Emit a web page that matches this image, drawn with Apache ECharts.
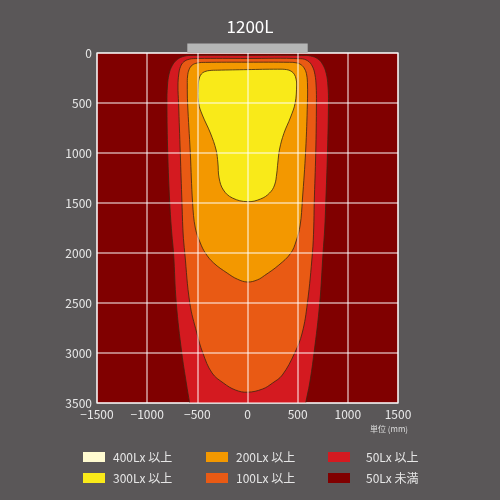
<!DOCTYPE html>
<html>
<head>
<meta charset="utf-8">
<script src="https://cdn.jsdelivr.net/npm/echarts@6/dist/echarts.min.js"></script>
<style>
  html, body { margin: 0; padding: 0; background: #5a5758; }
  #chart { width: 500px; height: 500px; }
</style>
</head>
<body>
<div id="chart"></div>
<script>
  // illuminance levels, in legend order
  const levels = ['400Lx 以上', '300Lx 以上', '200Lx 以上', '100Lx 以上', '50Lx 以上', '50Lx 未満']
  const colors = ['#fffbd0', '#f9ea19', '#f39800', '#e95a14', '#d41a20', '#800000']

  // contour outlines [x mm, distance mm]
  const lux400 = []
  const lux300 = [
    [-300, 172], [-375, 175], [-425, 186], [-460, 210], [-480, 250], [-490, 310], [-487, 500],
    [-450, 620], [-370, 800], [-313, 970], [-295, 1100], [-283, 1250], [-240, 1370], [-150, 1450],
    [0, 1487], [130, 1460], [220, 1400], [270, 1320], [292, 1200], [302, 1100], [320, 960],
    [363, 803], [430, 640], [475, 500], [490, 320], [484, 260], [466, 212], [435, 182],
    [390, 166], [300, 162], [0, 166],
  ]
  const lux200 = [
    [-420, 94], [-500, 100], [-552, 122], [-582, 165], [-597, 230], [-600, 320], [-597, 500],
    [-570, 1000], [-547, 1500], [-520, 1750], [-470, 1900], [-420, 2000], [-337, 2100],
    [-203, 2200], [-100, 2262], [0, 2290], [100, 2268], [170, 2225], [313, 2120], [430, 2003],
    [485, 1880], [525, 1720], [547, 1470], [580, 970], [597, 500], [598, 320], [590, 220],
    [570, 160], [535, 118], [485, 98], [420, 93], [0, 92],
  ]
  const lux100 = [
    [-500, 55], [-580, 62], [-635, 88], [-667, 135], [-685, 210], [-693, 330], [-687, 500],
    [-670, 1000], [-653, 1500], [-642, 1800], [-625, 2000], [-575, 2500], [-505, 2800],
    [-445, 3000], [-353, 3200], [-240, 3300], [-120, 3370], [0, 3392], [150, 3360], [250, 3300],
    [347, 3220], [470, 3000], [545, 2800], [597, 2500], [647, 2000], [660, 1750], [665, 1500],
    [680, 1000], [687, 500], [684, 330], [672, 215], [645, 130], [600, 78], [530, 57], [0, 55],
  ]
  const lux50 = [
    [-540, 24], [-630, 32], [-700, 65], [-750, 125], [-782, 210], [-798, 330], [-803, 500],
    [-795, 1000], [-775, 1500], [-755, 1800], [-737, 2000], [-710, 2500], [-655, 3000],
    [-610, 3300], [-577, 3500], [-560, 3600], [565, 3600], [580, 3500], [620, 3300], [663, 3000],
    [720, 2500], [753, 2000], [770, 1750], [780, 1500], [797, 1000], [807, 500], [802, 330],
    [785, 205], [750, 115], [700, 58], [630, 30], [540, 24], [0, 24],
  ]
  // the luminaire drawn above the 0 line
  const lamp = [[-600, -95], [600, 0]]

  const font = '"Noto Sans CJK JP", "Noto Sans", sans-serif'

  function contour(name, pts, color, z) {
    return {
      name: name,
      type: 'custom',
      z: z,
      clip: true,
      itemStyle: { color: color },
      data: pts,
      renderItem: function (params, api) {
        if (params.dataIndex !== 0) return
        return {
          type: 'polygon',
          shape: { points: pts.map((p) => api.coord(p)), smooth: 0.4 },
          style: { fill: color, stroke: '#3d2410', lineWidth: 0.8 },
        }
      },
    }
  }

  function legendCol(left, names, pad) {
    return {
      orient: 'vertical',
      left: left,
      top: 446,
      icon: 'rect',
      itemWidth: 22,
      itemHeight: 10,
      itemGap: 9,
      selectedMode: false,
      textStyle: { color: '#e6e6e6', fontSize: 12, fontFamily: font, lineHeight: 10, padding: [0, 0, 0, pad] },
      data: names,
    }
  }

  const chart = echarts.init(document.getElementById('chart'))
  chart.setOption({
    backgroundColor: '#5a5758',
    animation: false,
    title: {
      text: '1200L',
      left: 'center',
      top: 13,
      textStyle: { color: '#ffffff', fontSize: 17, fontWeight: 'normal', fontFamily: font },
    },
    grid: {
      left: 97,
      right: 102,
      top: 53,
      bottom: 97,
      show: true,
      backgroundColor: colors[5],
      borderColor: 'rgba(255,255,255,0.7)',
      borderWidth: 1.5,
    },
    legend: [
      legendCol(78, [levels[0], levels[1]], 3),
      legendCol(201, [levels[2], levels[3]], 3),
      legendCol(323, [levels[4], levels[5]], 11),
    ],
    graphic: [
      {
        type: 'text',
        right: 92,
        top: 425,
        style: { text: '単位 (mm)', fill: '#dddddd', fontSize: 8, fontFamily: font },
      },
    ],
    xAxis: {
      type: 'value',
      min: -1500,
      max: 1500,
      interval: 500,
      z: 10,
      axisLine: { show: false },
      axisTick: { show: false },
      splitLine: { lineStyle: { color: 'rgba(255,255,255,0.65)', width: 1.5 } },
      axisLabel: {
        color: '#e8e8e8',
        fontSize: 12,
        fontFamily: font,
        margin: 5,
        formatter: (v) => String(v).replace('-', '−'),
      },
    },
    yAxis: {
      type: 'value',
      inverse: true,
      min: 0,
      max: 3500,
      interval: 500,
      z: 10,
      axisLine: { show: false },
      axisTick: { show: false },
      splitLine: { lineStyle: { color: 'rgba(255,255,255,0.65)', width: 1.5 } },
      axisLabel: { color: '#e8e8e8', fontSize: 12, fontFamily: font, margin: 5, formatter: (v) => String(v) },
    },
    series: [
      contour(levels[5], [], colors[5], 1),
      contour(levels[4], lux50, colors[4], 2),
      contour(levels[3], lux100, colors[3], 3),
      contour(levels[2], lux200, colors[2], 4),
      contour(levels[1], lux300, colors[1], 5),
      contour(levels[0], lux400, colors[0], 6),
      {
        type: 'custom',
        z: 11,
        clip: false,
        data: [0],
        renderItem: function (params, api) {
          const a = api.coord(lamp[0])
          const b = api.coord(lamp[1])
          return {
            type: 'rect',
            shape: { x: a[0], y: a[1], width: b[0] - a[0], height: b[1] - a[1] },
            style: { fill: '#b5b6b6' },
          }
        },
      },
    ],
  })
</script>
</body>
</html>
